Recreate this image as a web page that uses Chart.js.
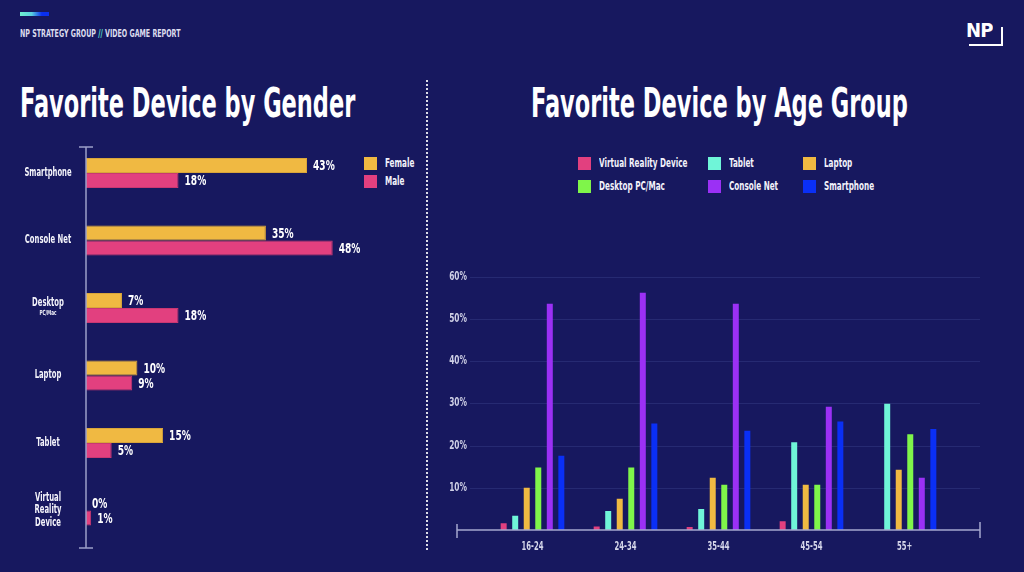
<!DOCTYPE html>
<html>
<head>
<meta charset="utf-8">
<script src="https://cdn.jsdelivr.net/npm/chart.js@4.4.1/dist/chart.umd.min.js"></script>
<style>
  html, body { margin: 0; padding: 0; }
  body {
    width: 1024px; height: 572px; overflow: hidden; position: relative;
    background: #17185f;
    font-family: "DejaVu Sans Condensed", "DejaVu Sans", sans-serif;
    color: #fff;
  }
  .abs { position: absolute; }
  .squeeze { display: inline-block; transform-origin: left top; white-space: nowrap; }
  #topbar { left: 20px; top: 12px; width: 29px; height: 4px; background: linear-gradient(90deg, #6ff0cf 0%, #5ad0e0 40%, #0a2ff0 75%, #0a2ff0 100%); }
  #header { left: 20px; top: 27px; font-size: 11px; font-weight: bold; color: #dcdcee; transform: scaleX(0.64); }
  #header span { color: #5ee6d0; }
  #logo { left: 966px; top: 19px; width: 38px; height: 28px; }
  #logo .np { position: absolute; left: 0; top: 0; font-family: "DejaVu Sans", sans-serif; font-weight: bold; font-size: 20px; letter-spacing: -1px; color: #fff; line-height: 22px; transform: scaleX(0.9); transform-origin: left top; }
  #logo .frame { position: absolute; left: 3px; top: 8px; width: 32px; height: 17px; border-right: 2px solid #fff; border-bottom: 2px solid #fff; }
  #sep { left: 426px; top: 80px; height: 470px; border-left: 2px dotted rgba(255,255,255,0.85); }
  .title { font-weight: bold; font-size: 40px; line-height: 1; transform: scaleX(0.625); }
  #title1 { left: 20px; top: 83px; }
  #title2 { left: 531px; top: 83px; }
  .lg { position: absolute; font-size: 11.5px; font-weight: bold; white-space: nowrap; color: #f2f2fa; line-height: 13px; }
  .lg i { position: absolute; left: 0; top: 0; width: 13px; height: 13px; }
  .lg b { position: absolute; left: 21px; top: 0; transform: scaleX(0.7); transform-origin: left top; }
</style>
</head>
<body>
<div id="topbar" class="abs"></div>
<div id="header" class="abs squeeze">NP STRATEGY GROUP <span>//</span> VIDEO GAME REPORT</div>
<div id="logo" class="abs"><div class="frame"></div><div class="np">NP</div></div>
<div id="sep" class="abs"></div>
<div id="title1" class="abs title squeeze">Favorite Device by Gender</div>
<div id="title2" class="abs title squeeze">Favorite Device by Age Group</div>

<div id="genderLegend"></div>
<div id="ageLegend"></div>

<canvas id="genderChart" class="abs" width="420" height="420" style="left:0;top:130px"></canvas>
<canvas id="ageChart" class="abs" width="570" height="300" style="left:430px;top:260px"></canvas>

<script>
// gender chart data
const genderLabels = ['Smartphone', 'Console Net', 'Desktop', 'Laptop', 'Tablet', ['Virtual', 'Reality', 'Device']];
const genderSubLabels = ['', '', 'PC/Mac', '', '', ''];
const femaleValues = [43, 35, 7, 10, 15, 0];
const maleValues = [18, 48, 18, 9, 5, 1];
const genderSeries = ['Female', 'Male'];
const genderColors = ['#f0b942', '#e2407f'];

// age group chart data
const ageGroups = ['16-24', '24-34', '35-44', '45-54', '55+'];
const deviceNames = ['Virtual Reality Device', 'Tablet', 'Laptop', 'Desktop PC/Mac', 'Console Net', 'Smartphone'];
const deviceColors = ['#e2407f', '#6ff5d8', '#f0b942', '#7ff54a', '#9b30f5', '#0a2ff5'];
const vrValues = [1.6, 0.8, 0.7, 2.1, 0];
const tabletValues = [3.4, 4.5, 5.0, 20.8, 29.9];
const laptopValues = [10.0, 7.4, 12.4, 10.7, 14.3];
const desktopValues = [14.8, 14.8, 10.7, 10.7, 22.7];
const consoleValues = [53.6, 56.2, 53.6, 29.2, 12.4];
const smartphoneValues = [17.6, 25.2, 23.5, 25.7, 23.9];
const ageTicks = [10, 20, 30, 40, 50, 60];

const FONT = '"DejaVu Sans Condensed", "DejaVu Sans", sans-serif';
Chart.defaults.font.family = FONT;

// squeezed text, the original uses a very narrow font
function narrowText(ctx, text, x, y, sx, align) {
  ctx.save();
  ctx.translate(x, y);
  ctx.scale(sx, 1);
  ctx.textAlign = align;
  ctx.fillText(text, 0, 0);
  ctx.restore();
}

// legends (html so the columns line up like the original)
function legendItem(parent, name, color, x, y) {
  const d = document.createElement('div');
  d.className = 'lg';
  d.style.left = x + 'px';
  d.style.top = y + 'px';
  d.innerHTML = '<i style="background:' + color + '"></i><b>' + name + '</b>';
  parent.appendChild(d);
}
const gl = document.getElementById('genderLegend');
genderSeries.forEach((s, i) => legendItem(gl, s, genderColors[i], 364, 157 + i * 18));
const al = document.getElementById('ageLegend');
const legendCols = [578, 708, 803];
deviceNames.forEach((s, i) => legendItem(al, s, deviceColors[i], legendCols[i % 3], 157 + Math.floor(i / 3) * 22.5));

// left chart: category labels, value labels and the axis line
const genderDecor = {
  id: 'genderDecor',
  afterDraw(chart) {
    const ctx = chart.ctx;
    const y = chart.scales.y;
    ctx.save();
    ctx.fillStyle = '#f4f4fb';
    ctx.textBaseline = 'middle';
    genderLabels.forEach((lab, i) => {
      const lines = Array.isArray(lab) ? lab : [lab];
      const cy = y.getPixelForValue(i);
      const sub = genderSubLabels[i];
      const lh = 12.5;
      let start = cy - (lines.length - 1) * lh / 2 - (sub ? 5 : 0);
      ctx.font = 'bold 11.5px ' + FONT;
      lines.forEach((t, k) => narrowText(ctx, t, 48, start + k * lh, 0.66, 'center'));
      if (sub) {
        ctx.font = 'bold 7px ' + FONT;
        narrowText(ctx, sub, 48, start + 10, 0.66, 'center');
      }
    });
    // value labels
    ctx.font = 'bold 14px ' + FONT;
    ctx.fillStyle = '#ffffff';
    chart.data.datasets.forEach((ds, di) => {
      chart.getDatasetMeta(di).data.forEach((bar, i) => {
        narrowText(ctx, ds.data[i] + '%', bar.x + 6, bar.y + 1, 0.72, 'left');
      });
    });
    // axis line with caps
    const ax = chart.chartArea.left;
    ctx.strokeStyle = '#9c9ec9';
    ctx.lineWidth = 1.5;
    ctx.beginPath();
    ctx.moveTo(ax, 17); ctx.lineTo(ax, 418);
    ctx.moveTo(ax - 7, 17); ctx.lineTo(ax + 7, 17);
    ctx.moveTo(ax - 7, 418); ctx.lineTo(ax + 7, 418);
    ctx.stroke();
    ctx.restore();
  }
};

new Chart(document.getElementById('genderChart'), {
  type: 'bar',
  data: {
    labels: genderLabels,
    datasets: [
      { label: genderSeries[0], data: femaleValues, backgroundColor: genderColors[0], borderColor: '#d9a53a', borderWidth: 1 },
      { label: genderSeries[1], data: maleValues, backgroundColor: genderColors[1], borderColor: '#c93772', borderWidth: 1 }
    ]
  },
  options: {
    indexAxis: 'y',
    responsive: false,
    animation: false,
    layout: { padding: { top: 9.25, bottom: 5.75, right: 25.6, left: 0 } },
    datasets: { bar: { categoryPercentage: 0.445, barPercentage: 1 } },
    plugins: { legend: { display: false }, tooltip: { enabled: false } },
    scales: {
      x: { display: false, min: 0, max: 60 },
      y: {
        grid: { display: false },
        border: { display: false },
        ticks: { display: false },
        afterFit(scale) { scale.width = 86; }
      }
    }
  },
  plugins: [genderDecor]
});

// right chart: faint grid, narrow tick labels and the baseline with caps
const ageDecor = {
  id: 'ageDecor',
  beforeDatasetsDraw(chart) {
    const ctx = chart.ctx;
    const y = chart.scales.y;
    const x = chart.scales.x;
    ctx.save();
    ctx.strokeStyle = '#262a72';
    ctx.lineWidth = 1;
    ageTicks.forEach(v => {
      const py = Math.round(y.getPixelForValue(v)) + 0.5;
      ctx.beginPath();
      ctx.moveTo(40, py);
      ctx.lineTo(550, py);
      ctx.stroke();
    });
    ctx.font = 'bold 11.5px ' + FONT;
    ctx.textBaseline = 'middle';
    ctx.fillStyle = '#cfd0e6';
    ageTicks.forEach(v => narrowText(ctx, v + '%', 37, y.getPixelForValue(v), 0.72, 'right'));
    ctx.fillStyle = '#d6d7ea';
    ageGroups.forEach((g, i) => narrowText(ctx, g, x.getPixelForValue(i), 287, 0.66, 'center'));
    ctx.restore();
  },
  afterDraw(chart) {
    const ctx = chart.ctx;
    const by = chart.scales.y.getPixelForValue(0);
    ctx.save();
    ctx.strokeStyle = '#a5a7cf';
    ctx.lineWidth = 1.5;
    ctx.beginPath();
    ctx.moveTo(27, by); ctx.lineTo(550, by);
    ctx.moveTo(27, by - 6); ctx.lineTo(27, by + 8);
    ctx.moveTo(550, by - 8); ctx.lineTo(550, by + 8);
    ctx.stroke();
    ctx.restore();
  }
};

const ageValues = [vrValues, tabletValues, laptopValues, desktopValues, consoleValues, smartphoneValues];

new Chart(document.getElementById('ageChart'), {
  type: 'bar',
  data: {
    labels: ageGroups,
    datasets: deviceNames.map((name, i) => ({
      label: name,
      data: ageValues[i],
      backgroundColor: deviceColors[i],
      borderWidth: 0
    }))
  },
  options: {
    responsive: false,
    animation: false,
    layout: { padding: { top: 16.7, right: 49, bottom: 0, left: 0 } },
    datasets: { bar: { categoryPercentage: 0.744, barPercentage: 0.52 } },
    plugins: { legend: { display: false }, tooltip: { enabled: false } },
    scales: {
      x: {
        grid: { display: false, drawTicks: false },
        border: { display: false },
        ticks: { display: false },
        afterFit(scale) { scale.height = 30; }
      },
      y: {
        min: 0, max: 60,
        afterBuildTicks(scale) { scale.ticks = ageTicks.map(v => ({ value: v })); },
        grid: { display: false, drawTicks: false },
        border: { display: false },
        ticks: { display: false },
        afterFit(scale) { scale.width = 56; }
      }
    }
  },
  plugins: [ageDecor]
});
</script>
</body>
</html>
